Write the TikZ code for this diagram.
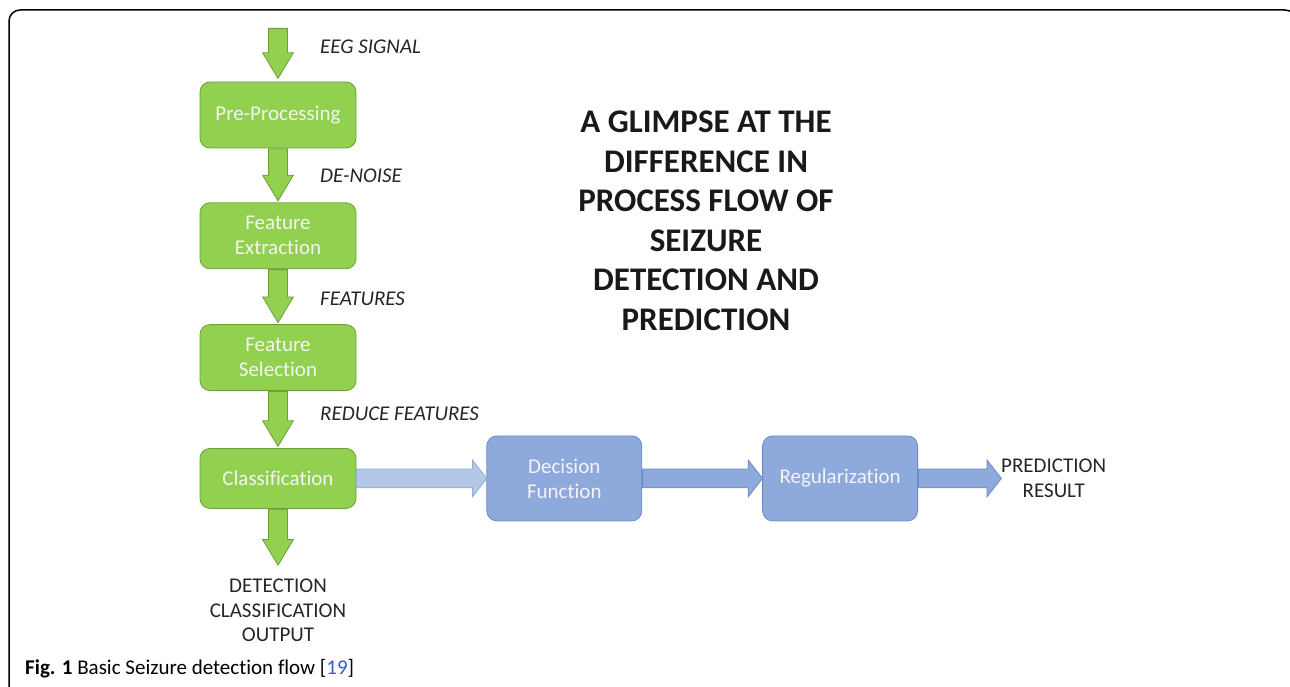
\documentclass[tikz,border=0pt]{standalone}
\usepackage{fontspec}
\setmainfont{Carlito}[Ligatures=NoCommon]
\usetikzlibrary{shapes.arrows, positioning}

\definecolor{boxgreen}{HTML}{92D050}
\definecolor{linegreen}{HTML}{6F9E3C}
\definecolor{boxblue}{HTML}{8EA9DB}
\definecolor{lineblue}{HTML}{6C8CC4}
\definecolor{paleblue}{HTML}{B4C7E7}
\definecolor{boxtext}{HTML}{F4F4F4}
\definecolor{citeblue}{HTML}{2F5FD0}

\tikzstyle{greenbox} = [
    rectangle,
    rounded corners=10pt,
    minimum width=156pt,
    minimum height=66pt,
    fill=boxgreen,
    draw=linegreen,
    line width=0.8pt,
    text=boxtext,
    align=center,
    font=\fontsize{21}{25}\selectfont
]
\tikzstyle{bluebox} = [
    greenbox,
    fill=boxblue,
    draw=lineblue,
    minimum width=155pt,
    minimum height=85pt
]
\tikzstyle{downarrow} = [
    single arrow,
    shape border rotate=270,
    single arrow head extend=6pt,
    single arrow tip angle=62,
    inner sep=9pt,
    minimum width=30pt,
    fill=boxgreen,
    draw=linegreen,
    line width=0.8pt,
    pos=0,
    anchor=tail
]
\tikzstyle{rightarrow} = [
    single arrow,
    single arrow head extend=9pt,
    single arrow tip angle=104,
    inner sep=9pt,
    minimum width=36pt,
    fill=boxblue,
    draw=lineblue,
    line width=0.8pt,
    pos=0,
    anchor=tail
]
\tikzstyle{flowlabel} = [anchor=west, xshift=42pt, inner sep=0pt, text=black!85,
    font=\fontsize{21}{24}\selectfont\itshape]
\tikzstyle{outlabel} = [align=center, inner sep=0pt, text=black!85,
    font=\fontsize{21}{24.5}\selectfont]

\begin{document}
\begin{tikzpicture}[x=1pt, y=-1pt]

\useasboundingbox (0,0) rectangle (1290,687);
\draw[line width=1.5pt, rounded corners=11pt] (9,700) -- (9,10) -- (1296,10) -- (1296,700);

\node (pre) [greenbox] at (278,115) {Pre-Processing};
\node (fe) [greenbox, below=54pt of pre] {Feature\\Extraction};
\node (fs) [greenbox, below=55pt of fe] {Feature\\Selection};
\node (cls) [greenbox, below=57pt of fs, minimum height=60pt] {Classification};

\node (dec) [bluebox, right=130pt of cls] {Decision\\Function};
\node (reg) [bluebox, right=120pt of dec] {Regularization};
\node (pred) [outlabel, right=83pt of reg] {PREDICTION\\RESULT};
\node (det) [outlabel, below=70pt of cls] {DETECTION\\CLASSIFICATION\\OUTPUT};

\node (title) [align=center, text=black!90, font=\fontsize{33}{39.5}\selectfont\bfseries]
    at (706,221) {A GLIMPSE AT THE\\DIFFERENCE IN\\PROCESS FLOW OF\\SEIZURE\\DETECTION AND\\PREDICTION};

\node (caption) [anchor=west, inner sep=0pt, font=\fontsize{21}{24}\selectfont] at (25,669)
    {\textbf{Fig. 1} Basic Seizure detection flow [\textcolor{citeblue}{19}]};

% green flow
\coordinate (eeg) at (278,28);
\path (eeg) -- node[downarrow, minimum height=50pt] {}
    node[flowlabel, yshift=8pt] {EEG SIGNAL} (pre.north);
\path (pre.south) -- node[downarrow, minimum height=52pt] {}
    node[flowlabel] {DE-NOISE} (fe.north);
\path (fe.south) -- node[downarrow, minimum height=53pt] {}
    node[flowlabel, yshift=-2pt] {FEATURES} (fs.north);
\path (fs.south) -- node[downarrow, minimum height=55pt] {}
    node[flowlabel, yshift=6pt] {REDUCE FEATURES} (cls.north);
\path (cls.south) -- node[downarrow, minimum height=56pt] {} (det.north);

% prediction branch
\path (cls.east) -- node[rightarrow, fill=paleblue, draw=boxblue, minimum height=130pt] {} (dec.west);
\path (dec.east) -- node[rightarrow, minimum height=120pt] {} (reg.west);
\path (reg.east) -- node[rightarrow, minimum height=83pt] {} (pred.west);

\end{tikzpicture}
\end{document}
